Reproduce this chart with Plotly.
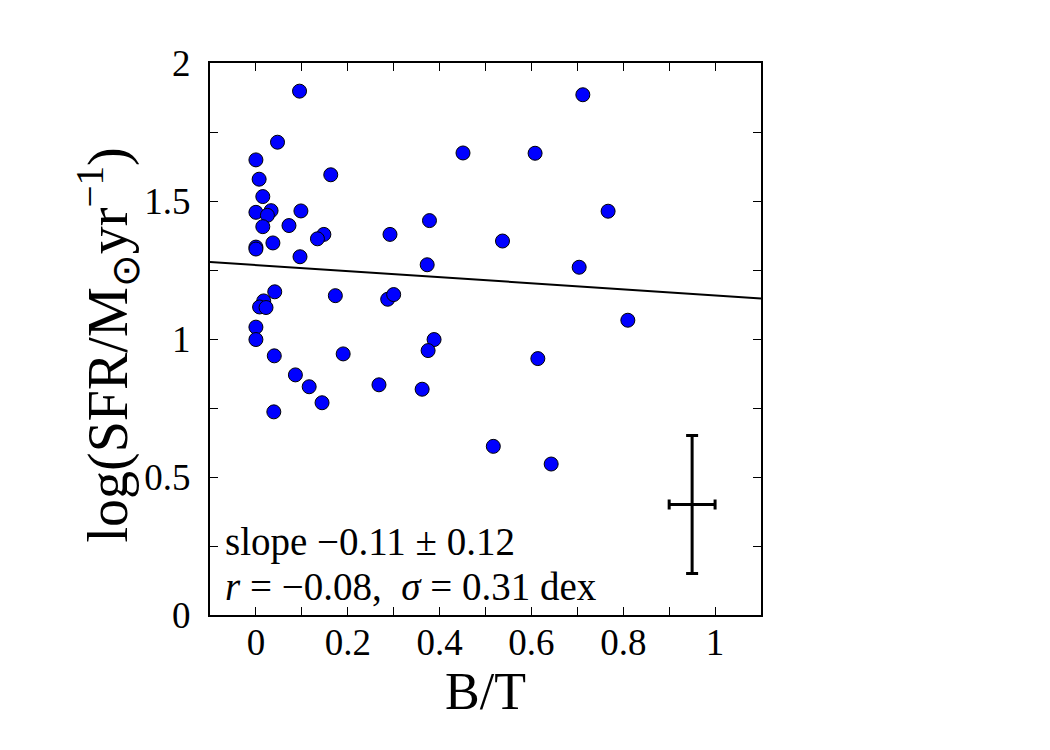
import plotly.graph_objects as go

# ---- data ----
bt = [0.095, 0.047, 0.0, 0.007, 0.015, 0.163, 0.0, 0.033, 0.025, 0.098,
      0.015, 0.072, 0.148, 0.134, 0.292, 0.0, 0.0, 0.037, 0.096, 0.041,
      0.173, 0.287, 0.300, 0.017, 0.008, 0.022, 0.0, 0.0, 0.040, 0.190,
      0.086, 0.116, 0.144, 0.039, 0.268, 0.712, 0.451, 0.608, 0.767, 0.378,
      0.537, 0.373, 0.704, 0.810, 0.388, 0.375, 0.614, 0.362, 0.517, 0.643]
log_sfr = [1.898, 1.713, 1.649, 1.579, 1.516, 1.595, 1.459, 1.465, 1.448, 1.464,
           1.407, 1.411, 1.379, 1.363, 1.379, 1.333, 1.326, 1.348, 1.298, 1.171,
           1.157, 1.144, 1.161, 1.138, 1.116, 1.114, 1.043, 0.998, 0.939, 0.946,
           0.870, 0.827, 0.769, 0.736, 0.834, 1.885, 1.674, 1.673, 1.463, 1.429,
           1.355, 1.269, 1.260, 1.068, 0.998, 0.958, 0.929, 0.818, 0.611, 0.547]

fit_intercept = 1.268
fit_slope = -0.11
x_range = [-0.1, 1.1]
y_range = [0.0, 2.0]

err_x_center = [0.95]
err_y_center = [0.4]
err_x_size = [0.05]
err_y_size = [0.25]

x_tickvals = [0.0, 0.2, 0.4, 0.6, 0.8, 1.0]
x_ticktext = ["0", "0.2", "0.4", "0.6", "0.8", "1"]
x_minor_step = 0.1
y_tickvals = [0.0, 0.5, 1.0, 1.5, 2.0]
y_ticktext = ["0", "0.5", "1", "1.5", "2"]
y_minor_step = 0.25

stat_lines = ["slope \u22120.11 \u00b1 0.12",
              "<i>r</i> = \u22120.08,  <i>\u03c3</i> = 0.31 dex"]
stat_y = [0.263, 0.105]

x_title = "B/T"
y_title = "log(SFR/M<sub>\u2299</sub>yr<sup>\u22121</sup>)"

FONT = "Liberation Serif"

fig = go.Figure()

fig.add_trace(go.Scatter(
    x=bt, y=log_sfr, mode="markers",
    marker=dict(size=14, color="#0000ff", line=dict(color="black", width=1)),
    showlegend=False, hoverinfo="skip"))

fit_y = [fit_intercept + fit_slope * xv for xv in x_range]
fig.add_trace(go.Scatter(
    x=x_range, y=fit_y, mode="lines",
    line=dict(color="black", width=2), showlegend=False, hoverinfo="skip"))

fig.add_trace(go.Scatter(
    x=err_x_center, y=err_y_center, mode="markers",
    marker=dict(size=1, color="black", opacity=0),
    error_x=dict(type="data", array=err_x_size, color="black", thickness=3, width=5),
    error_y=dict(type="data", array=err_y_size, color="black", thickness=3, width=6),
    showlegend=False, hoverinfo="skip"))

for txt, yy in zip(stat_lines, stat_y):
    fig.add_annotation(x=-0.071, y=yy, xref="x", yref="y", xanchor="left", yanchor="middle",
                       text=txt, showarrow=False,
                       font=dict(family=FONT, size=39, color="black"))

# y-axis title as a rotated annotation for precise placement
fig.add_annotation(x=-0.187, y=0.49, xref="paper", yref="paper",
                   xanchor="center", yanchor="middle", textangle=-90,
                   text=y_title, showarrow=False,
                   font=dict(family=FONT, size=56, color="black"))

axis_common = dict(
    showline=True, linecolor="black", linewidth=2, mirror="ticks",
    ticks="inside", ticklen=8, tickwidth=1, tickcolor="black",
    showgrid=False, zeroline=False,
    tickfont=dict(family=FONT, size=37, color="black"),
)

fig.update_xaxes(range=x_range, tickmode="array", tickvals=x_tickvals, ticktext=x_ticktext,
                 ticklabelstandoff=-6,
                 minor=dict(ticks="inside", ticklen=8, tickwidth=1, tickcolor="black",
                            tick0=0, dtick=x_minor_step, showgrid=False),
                 title=dict(text=x_title, font=dict(family=FONT, size=52, color="black"), standoff=8),
                 **axis_common)
fig.update_yaxes(range=y_range, tickmode="array", tickvals=y_tickvals, ticktext=y_ticktext,
                 ticklabelstandoff=10,
                 minor=dict(ticks="inside", ticklen=8, tickwidth=1, tickcolor="black",
                            tick0=0, dtick=y_minor_step, showgrid=False),
                 **axis_common)

fig.update_layout(
    width=1050, height=750,
    margin=dict(l=210, r=289, t=63, b=135, autoexpand=False),
    paper_bgcolor="white", plot_bgcolor="white",
)

fig.write_html("out.html")
